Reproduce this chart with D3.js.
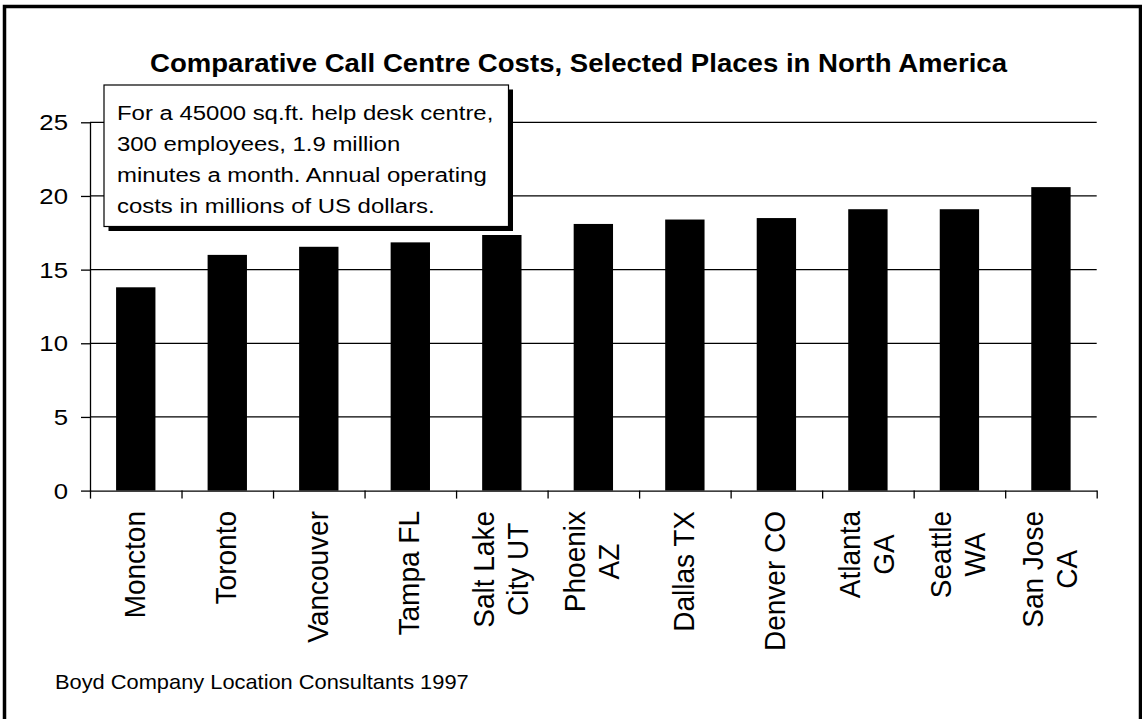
<!DOCTYPE html>
<html>
<head>
<meta charset="utf-8">
<script src="https://cdn.jsdelivr.net/npm/d3@7"></script>
<style>
  html, body { margin: 0; padding: 0; background: #fff; }
  svg { display: block; font-family: "Liberation Sans", Arial, sans-serif; }
</style>
</head>
<body>
<svg id="chart" width="1142" height="719"></svg>
<script>
// data
var categories = ['Moncton', 'Toronto', 'Vancouver', 'Tampa FL', 'Salt Lake\nCity UT', 'Phoenix\nAZ',
  'Dallas TX', 'Denver CO', 'Atlanta\nGA', 'Seattle\nWA', 'San Jose\nCA'];
var costs = [13.8, 16.0, 16.55, 16.85, 17.35, 18.1, 18.4, 18.5, 19.1, 19.1, 20.6];
var yTicks = [0, 5, 10, 15, 20, 25];
var noteLines = ['For a 45000 sq.ft. help desk centre,', '300 employees, 1.9 million',
  'minutes a month. Annual operating', 'costs in millions of US dollars.'];
var title = 'Comparative Call Centre Costs, Selected Places in North America';
var source = 'Boyd Company Location Consultants 1997';

(function () {
  'use strict';

  var svg = d3.select('#chart');
  var left = 90, right = 1096.7, top = 122.3, bottom = 490.6;

  var x = d3.scaleBand()
    .domain(d3.range(categories.length))
    .range([left, right])
    .paddingInner(0.57)
    .paddingOuter(0.285);

  // tick marks sit on the category boundaries, not the centres
  var xEdges = d3.scaleLinear().domain([0, categories.length]).range([left, right]);

  var y = d3.scaleLinear().domain([0, 25]).range([bottom, top]);

  // outer frame
  svg.append('path')
    .attr('d', 'M4.5,719 V6.6 H1140.5 V719')
    .attr('fill', 'none')
    .attr('stroke', '#000')
    .attr('stroke-width', 3.5);

  // grid lines
  svg.append('g')
    .selectAll('line')
    .data(yTicks.filter(function (d) { return d > 0; }))
    .join('line')
    .attr('x1', left)
    .attr('x2', right)
    .attr('y1', function (d) { return y(d); })
    .attr('y2', function (d) { return y(d); })
    .attr('stroke', '#000')
    .attr('stroke-width', 1.3);

  // bars
  svg.append('g')
    .selectAll('rect')
    .data(costs)
    .join('rect')
    .attr('x', function (d, i) { return x(i); })
    .attr('width', x.bandwidth())
    .attr('y', function (d) { return y(d); })
    .attr('height', function (d) { return y(0) - y(d); })
    .attr('fill', '#000');

  // y axis
  var yAxis = svg.append('g')
    .attr('transform', 'translate(' + left + ',0)')
    .call(d3.axisLeft(y).tickValues(yTicks).tickSize(9).tickSizeOuter(0).tickFormat(''));
  yAxis.selectAll('path, line').attr('stroke', '#000').attr('stroke-width', 1.3);

  svg.append('g')
    .selectAll('text')
    .data(yTicks)
    .join('text')
    .attr('transform', function (d) { return 'translate(68,' + (y(d) + 8) + ') scale(1.12,1)'; })
    .attr('text-anchor', 'end')
    .attr('font-size', 23)
    .attr('fill', '#000')
    .text(function (d) { return d; });

  // x axis
  var xAxis = svg.append('g')
    .attr('transform', 'translate(0,' + bottom + ')')
    .call(d3.axisBottom(xEdges).tickValues(d3.range(categories.length + 1)).tickSize(8).tickSizeOuter(0).tickFormat(''));
  xAxis.selectAll('path, line').attr('stroke', '#000').attr('stroke-width', 1.3);

  // category labels, rotated; lines centred on the longest one, top aligned
  var lineGap = 34, labelTop = 511;
  categories.forEach(function (label, i) {
    var lines = label.split('\n');
    var cx = x(i) + x.bandwidth() / 2;
    var g = svg.append('g');
    var texts = lines.map(function (line, j) {
      return g.append('text')
        .attr('font-size', 28)
        .attr('text-anchor', 'middle')
        .attr('fill', '#000')
        .text(line);
    });
    var maxLen = d3.max(texts, function (t) { return t.node().getComputedTextLength(); });
    texts.forEach(function (t, j) {
      var bx = cx + (j - (lines.length - 1) / 2) * lineGap + 9;
      t.attr('transform', 'translate(' + bx + ',' + (labelTop + maxLen / 2) + ') scale(1.07,1) rotate(-90)');
    });
  });

  // title
  svg.append('text')
    .attr('x', 150)
    .attr('y', 72)
    .attr('font-size', 25)
    .attr('font-weight', 'bold')
    .attr('textLength', 857)
    .attr('lengthAdjust', 'spacingAndGlyphs')
    .attr('fill', '#000')
    .text(title);

  // note box with drop shadow
  var box = {x: 104, y: 85, w: 404.5, h: 141.5};
  svg.append('rect')
    .attr('x', box.x + 4.5).attr('y', box.y + 4.5)
    .attr('width', box.w).attr('height', box.h)
    .attr('fill', '#000');
  svg.append('rect')
    .attr('x', box.x).attr('y', box.y)
    .attr('width', box.w).attr('height', box.h)
    .attr('fill', '#fff')
    .attr('stroke', '#000')
    .attr('stroke-width', 1.2);

  svg.append('g')
    .selectAll('text')
    .data(noteLines)
    .join('text')
    .attr('transform', function (d, i) { return 'translate(117,' + (120 + i * 31) + ') scale(1.14,1)'; })
    .attr('font-size', 21)
    .attr('fill', '#000')
    .text(function (d) { return d; });

  // source
  svg.append('text')
    .attr('transform', 'translate(55,689) scale(1.04,1)')
    .attr('font-size', 21)
    .attr('fill', '#000')
    .text(source);
}());
</script>
</body>
</html>
